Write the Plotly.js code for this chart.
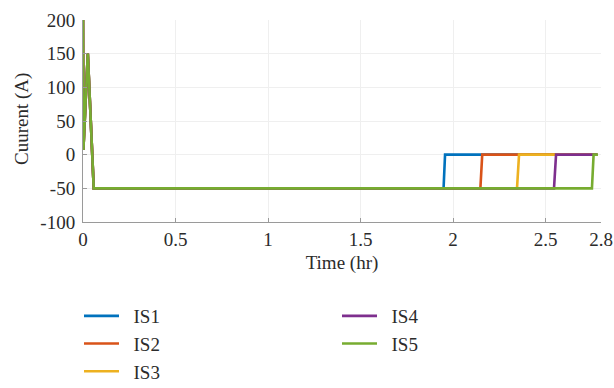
<!DOCTYPE html>
<html>
<head>
<meta charset="utf-8">
<script src="https://cdn.plot.ly/plotly-3.0.1.min.js"></script>
<style>
  html, body { margin: 0; padding: 0; background: #fff; }
  #chart { width: 614px; height: 388px; }
</style>
</head>
<body>
<div id="chart"></div>
<script>
// Inverter source currents over the run (time in hours, current in amps)
const seriesNames = ["IS1", "IS2", "IS3", "IS4", "IS5"];
const seriesColors = ["#0072BD", "#D95319", "#EDB120", "#7E2F8E", "#77AC30"];

const timeIS1 = [0, 0.002, 0.026, 0.058, 1.949, 1.957, 2.78];
const currIS1 = [200, 7, 150, -50, -50, 0, 0];

const timeIS2 = [0, 0.002, 0.026, 0.058, 2.148, 2.158, 2.78];
const currIS2 = [200, 7, 150, -50, -50, 0, 0];

const timeIS3 = [0, 0.002, 0.026, 0.058, 2.346, 2.357, 2.78];
const currIS3 = [200, 7, 150, -50, -50, 0, 0];

const timeIS4 = [0, 0.002, 0.026, 0.058, 2.546, 2.557, 2.78];
const currIS4 = [200, 7, 150, -50, -50, 0, 0];

const timeIS5 = [0, 0.002, 0.026, 0.058, 2.751, 2.760, 2.783];
const currIS5 = [200, 7, 150, -50, -50, 0, 0];

const xTickVals = [0, 0.5, 1, 1.5, 2, 2.5, 2.8];
const xTickText = ["0", "0.5", "1", "1.5", "2", "2.5", "2.8"];
const yTickVals = [-100, -50, 0, 50, 100, 150, 200];
const yTickText = ["-100", "-50", "0", "50", "100", "150", "200"];

const xTitle = "Time (hr)";
const yTitle = "Cuurent (A)";

const times = [timeIS1, timeIS2, timeIS3, timeIS4, timeIS5];
const currents = [currIS1, currIS2, currIS3, currIS4, currIS5];
const legendOf = ["legend", "legend", "legend", "legend2", "legend2"];

// a small spacer keeps the legend labels clear of their line samples
const GAP = "\u2002";

const traces = seriesNames.map((name, k) => ({
  type: "scatter",
  mode: "lines",
  name: GAP + name,
  x: times[k],
  y: currents[k],
  legend: legendOf[k],
  legendgroup: name,
  line: { color: seriesColors[k], width: 2.6 }
}));

const FONT = "Liberation Serif, DejaVu Serif, serif";
const TXT = "#2b2b2b";
const FS = 19;

const legendBase = {
  orientation: "v",
  xref: "container", yref: "container",
  xanchor: "left", yanchor: "top",
  bgcolor: "rgba(0,0,0,0)",
  borderwidth: 0,
  font: { family: FONT, size: FS, color: TXT },
  itemwidth: 35,
  traceorder: "grouped",
  tracegroupgap: 0
};

const layout = {
  width: 614,
  height: 388,
  margin: { l: 83, r: 13, t: 20, b: 166, autoexpand: false },
  paper_bgcolor: "#ffffff",
  plot_bgcolor: "#ffffff",
  font: { family: FONT, size: FS, color: TXT },
  showlegend: true,
  legend: Object.assign({}, legendBase, { x: 79 / 614, y: 1 - 297 / 388 }),
  legend2: Object.assign({}, legendBase, { x: 337 / 614, y: 1 - 297 / 388 }),
  xaxis: {
    range: [0, 2.8],
    tickmode: "array",
    tickvals: xTickVals,
    ticktext: xTickText,
    tickangle: 0,
    ticks: "inside",
    ticklen: 4,
    tickcolor: "#9a9a9a",
    showline: true,
    linecolor: "#9a9a9a",
    linewidth: 1,
    showgrid: true,
    gridcolor: "#efefef",
    gridwidth: 1,
    zeroline: false,
    automargin: true,
    tickfont: { family: FONT, size: FS, color: TXT },
    title: { text: xTitle, font: { family: FONT, size: FS, color: TXT }, standoff: 6 }
  },
  yaxis: {
    range: [-100, 200],
    tickmode: "array",
    tickvals: yTickVals,
    ticktext: yTickText,
    ticks: "inside",
    ticklen: 4,
    tickcolor: "#9a9a9a",
    ticklabelstandoff: 3,
    showline: true,
    linecolor: "#9a9a9a",
    linewidth: 1,
    showgrid: true,
    gridcolor: "#efefef",
    gridwidth: 1,
    zeroline: false,
    automargin: false,
    tickfont: { family: FONT, size: FS, color: TXT }
  },
  // vertical axis label, set beside the tick labels
  annotations: [{
    text: yTitle,
    xref: "paper", yref: "paper",
    x: (22 - 83) / 518, y: (222 - 119) / 202,
    xanchor: "center", yanchor: "middle",
    textangle: -90,
    showarrow: false,
    font: { family: FONT, size: FS, color: TXT }
  }]
};

Plotly.newPlot("chart", traces, layout, { displayModeBar: false, staticPlot: true });
</script>
</body>
</html>
